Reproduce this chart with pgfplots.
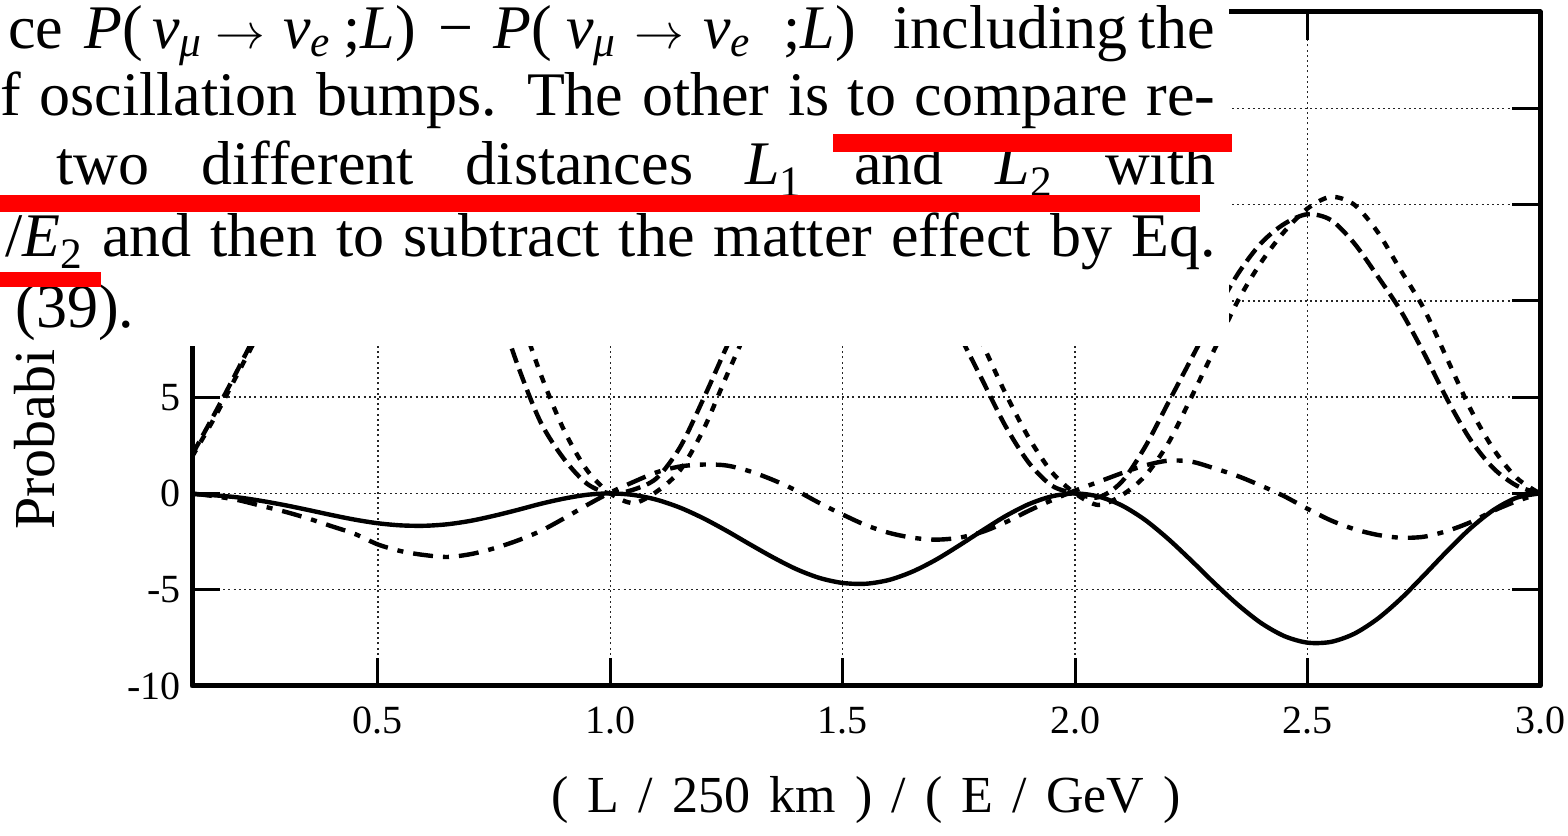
\documentclass[border=0pt]{standalone}
\usepackage{pgfplots}
\pgfplotsset{compat=1.18}
\usepackage{fontspec}
\setmainfont{Liberation Serif}
\begin{document}
\begin{tikzpicture}
\useasboundingbox (0,0) rectangle (784pt,417.5pt);
\begin{axis}[
  at={(96pt,74.5pt)}, anchor=south west,
  scale only axis, width=674pt, height=337pt,
  xmin=0.1, xmax=3.0, ymin=-10, ymax=25,
  xtick={0.5,1,1.5,2,2.5,3}, xticklabels={0.5,1.0,1.5,2.0,2.5,3.0},
  ytick={-10,-5,0,5,10,15,20}, yticklabels={-10,-5,0,5,{},{},{}},
  tick align=inside, major tick length=14pt,
  major tick style={line width=1.5pt, black},
  axis line style={line width=2.5pt, black},
  grid=major,
  major grid style={line width=0.7pt, black!85, dash pattern=on 1pt off 1.6pt},
  tick label style={font=\fontsize{20}{22}\selectfont},
  xticklabel style={yshift=-7pt},
  yticklabel style={xshift=-2pt},
  line join=round,
]
% solid
\addplot[black, line width=2.2pt, smooth] coordinates {
(0.10,-0.03) (0.15,-0.10) (0.20,-0.21) (0.25,-0.39) (0.30,-0.61) (0.35,-0.86) (0.40,-1.12) (0.45,-1.36) (0.50,-1.55) (0.55,-1.66) (0.60,-1.68) (0.65,-1.60) (0.70,-1.42) (0.75,-1.16) (0.80,-0.86) (0.85,-0.54) (0.90,-0.27) (0.95,-0.07) (1.00,0) (1.05,-0.08) (1.10,-0.33) (1.15,-0.74) (1.20,-1.29) (1.25,-1.94) (1.30,-2.64) (1.35,-3.32) (1.40,-3.93) (1.45,-4.39) (1.50,-4.65) (1.55,-4.69) (1.60,-4.49) (1.65,-4.06) (1.70,-3.45) (1.75,-2.71) (1.80,-1.93) (1.85,-1.18) (1.90,-0.56) (1.95,-0.15) (2.00,0) (2.05,-0.16) (2.10,-0.62) (2.15,-1.37) (2.20,-2.36) (2.25,-3.49) (2.30,-4.67) (2.35,-5.78) (2.40,-6.73) (2.45,-7.41) (2.50,-7.75) (2.55,-7.71) (2.60,-7.29) (2.65,-6.52) (2.70,-5.48) (2.75,-4.26) (2.80,-3.00) (2.85,-1.82) (2.90,-0.86) (2.95,-0.22) (3.00,0)};
% dash-dot
\addplot[black, line width=2.2pt, smooth, dash pattern=on 10pt off 5pt on 3pt off 5pt] coordinates {
(0.10,0) (0.15,-0.15) (0.20,-0.35) (0.25,-0.65) (0.30,-0.95) (0.35,-1.3) (0.40,-1.7) (0.45,-2.1) (0.50,-2.65) (0.55,-3.0) (0.60,-3.2) (0.65,-3.3) (0.70,-3.15) (0.75,-2.85) (0.80,-2.45) (0.85,-1.95) (0.90,-1.3) (0.95,-0.6) (1.00,0.05) (1.05,0.6) (1.10,1.1) (1.15,1.4) (1.20,1.5) (1.25,1.45) (1.30,1.15) (1.35,0.7) (1.40,0.15) (1.45,-0.5) (1.50,-1.1) (1.55,-1.65) (1.60,-2.05) (1.65,-2.3) (1.70,-2.4) (1.75,-2.3) (1.80,-2.0) (1.85,-1.5) (1.90,-0.9) (1.95,-0.35) (2.00,0.15) (2.05,0.6) (2.10,1.05) (2.15,1.45) (2.20,1.7) (2.25,1.65) (2.30,1.3) (2.35,0.9) (2.40,0.4) (2.45,-0.15) (2.50,-0.8) (2.55,-1.4) (2.60,-1.85) (2.65,-2.15) (2.70,-2.3) (2.75,-2.25) (2.80,-1.95) (2.85,-1.5) (2.90,-0.9) (2.95,-0.4) (3.00,0)};
% long dash
\addplot[black, line width=2.2pt, smooth, dash pattern=on 7.5pt off 3.5pt] coordinates {
(0.10,2.0) (0.15,4.2) (0.20,6.5) (0.25,8.9) (0.30,11.3) (0.35,13.7) (0.40,16.0) (0.45,18.0) (0.50,19.4) (0.55,20.0) (0.60,19.3) (0.65,17.3) (0.70,14.0) (0.75,10.3) (0.80,6.7) (0.85,3.7) (0.90,1.8) (0.95,0.5) (1.00,0) (1.05,0.2) (1.10,0.8) (1.15,2.4) (1.20,4.9) (1.25,7.6) (1.30,10.2) (1.35,12.5) (1.40,14.3) (1.45,15.6) (1.50,16.2) (1.55,15.9) (1.60,14.8) (1.65,13.0) (1.70,10.8) (1.75,8.3) (1.80,5.9) (1.85,3.5) (1.90,1.6) (1.95,0.4) (2.00,0) (2.05,-0.2) (2.10,0.6) (2.15,2.4) (2.20,4.7) (2.25,7.0) (2.30,9.3) (2.35,11.4) (2.40,13.0) (2.45,14.0) (2.50,14.5) (2.55,14.2) (2.60,13.0) (2.65,11.3) (2.70,9.5) (2.75,7.3) (2.80,4.9) (2.85,2.8) (2.90,1.3) (2.95,0.4) (3.00,0)};
% short dash
\addplot[black, line width=2.2pt, smooth, dash pattern=on 4pt off 4.5pt] coordinates {
(0.10,1.9) (0.15,4.0) (0.20,6.3) (0.25,8.6) (0.30,10.9) (0.35,13.4) (0.40,15.8) (0.45,17.9) (0.50,19.6) (0.55,20.6) (0.60,20.6) (0.65,19.3) (0.70,16.8) (0.75,13.5) (0.80,9.7) (0.85,6.2) (0.90,3.3) (0.95,1.2) (1.00,0) (1.05,-0.5) (1.10,0.1) (1.15,1.2) (1.20,3.3) (1.25,6.1) (1.30,8.8) (1.35,11.3) (1.40,13.4) (1.45,15.0) (1.50,16.0) (1.55,16.4) (1.60,16.0) (1.65,14.8) (1.70,12.9) (1.75,10.4) (1.80,7.8) (1.85,5.2) (1.90,2.9) (1.95,1.1) (2.00,0) (2.05,-0.6) (2.10,-0.1) (2.15,0.9) (2.20,2.6) (2.25,5.0) (2.30,7.5) (2.35,10.0) (2.40,12.0) (2.45,13.6) (2.50,14.8) (2.55,15.4) (2.60,15.0) (2.65,13.6) (2.70,11.6) (2.75,9.6) (2.80,7.0) (2.85,4.4) (2.90,2.3) (2.95,0.8) (3.00,0)};
\end{axis}
\begin{scope}[x=0.5pt,y=-0.5pt,shift={(0,417.5pt)}]
% axis labels
\node[rotate=90, anchor=base west, inner sep=0pt, font=\fontsize{29}{34}\selectfont] at (55,530) {Probabi};
\node[anchor=base, inner sep=0pt, font=\fontsize{26}{30}\selectfont] at (866,812) {\makebox[315pt][s]{( L / 250 km ) / ( E / GeV )}};
% covering text block
\fill[white] (0,0) rectangle (1229,346);
\begin{scope}[every node/.style={anchor=base west, inner sep=0pt, font=\fontsize{31}{36}\selectfont}]
% line 1, set piece by piece
\node at (8,49) {ce};
\node at (84,49) {\textit{P}(};
\node at (152,49) {\textit{ν}\textsubscript{\textit{μ}}};
\node at (215,49) {$\rightarrow$};
\node at (283,49) {\textit{ν}\textsubscript{\textit{e}}};
\node at (343,49) {;\textit{L})};
\node at (438,49) {−};
\node at (493,49) {\textit{P}(};
\node at (566,49) {\textit{ν}\textsubscript{\textit{μ}}};
\node at (634,49) {$\rightarrow$};
\node at (703,49) {\textit{ν}\textsubscript{\textit{e}}};
\node at (783,49) {;\textit{L})};
\node at (893,49) {including};
\node[anchor=base east] at (1215,49) {the};
% lines 2-5
\node at (0,116) {\makebox[607.5pt][s]{f oscillation bumps. The other is to compare re-}};
\node at (56,185) {\makebox[579.5pt][s]{two different distances \textit{L}\textsubscript{1} and \textit{L}\textsubscript{2} with}};
\node at (5,257) {\makebox[605pt][s]{/\textit{E}\textsubscript{2} and then to subtract the matter effect by Eq.}};
\node at (15,328) {(39).};
\end{scope}
% red underlines
\fill[red] (833,134) rectangle (1232,152);
\fill[red] (0,195) rectangle (1200,212);
\fill[red] (0,272) rectangle (101,287);
\end{scope}
\end{tikzpicture}
\end{document}
